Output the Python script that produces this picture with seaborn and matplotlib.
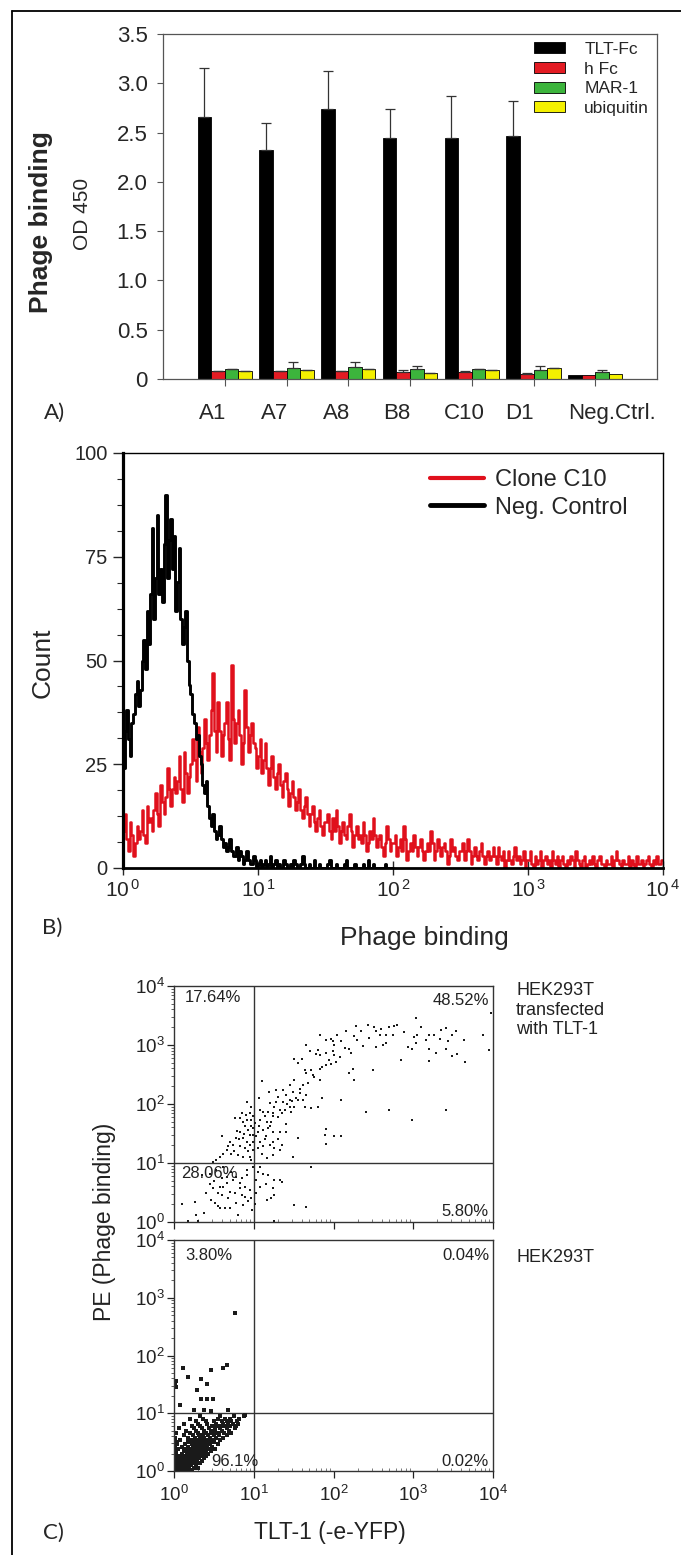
import numpy as np
import pandas as pd
import matplotlib
matplotlib.use("Agg")
import matplotlib.pyplot as plt
import matplotlib.transforms as mtrans
from matplotlib.lines import Line2D
from matplotlib.ticker import AutoMinorLocator, LogLocator, NullLocator, NullFormatter
import seaborn as sns

sns.set_theme(style="ticks")
plt.rcParams['font.family'] = ['Liberation Sans', 'DejaVu Sans']
plt.rcParams['mathtext.fontset'] = 'custom'
plt.rcParams['mathtext.rm'] = 'Liberation Sans'
plt.rcParams['mathtext.it'] = 'Liberation Sans:italic'
plt.rcParams['mathtext.bf'] = 'Liberation Sans:bold'

# ---------------- Panel A data ----------------
clones = ["A1", "A7", "A8", "B8", "C10", "D1", "Neg.Ctrl."]
targets = ["TLT-Fc", "h Fc", "MAR-1", "ubiquitin"]
tlt_fc = [2.66, 2.32, 2.74, 2.45, 2.45, 2.47, 0.044]
h_fc = [0.078, 0.078, 0.078, 0.068, 0.068, 0.054, 0.040]
mar_1 = [0.100, 0.110, 0.120, 0.100, 0.100, 0.095, 0.074]
ubiquitin = [0.078, 0.088, 0.100, 0.060, 0.088, 0.110, 0.047]
tlt_fc_err = [0.50, 0.28, 0.38, 0.29, 0.42, 0.35, 0.0]
h_fc_err = [0.004, 0.004, 0.004, 0.020, 0.012, 0.004, 0.0]
mar_1_err = [0.005, 0.065, 0.055, 0.028, 0.005, 0.033, 0.021]
ubiquitin_err = [0.004, 0.004, 0.004, 0.004, 0.004, 0.004, 0.0]
a_yticks = [0, 0.5, 1.0, 1.5, 2.0, 2.5, 3.0, 3.5]
a_yticklabels = ["0", "0.5", "1.0", "1.5", "2.0", "2.5", "3.0", "3.5"]

# ---------------- Panel B data (histogram channels, 80 per decade) ----------------
channels_per_decade = 80
clone_c10_counts = [
    9, 13, 7, 4, 11, 8, 3, 6, 10, 7, 9, 14, 8, 6, 15, 11, 12, 9, 14, 18,
    13, 10, 20, 16, 13, 17, 24, 19, 15, 19, 22, 18, 21, 27, 19, 16, 28, 23, 18, 22,
    25, 31, 26, 21, 34, 28, 23, 29, 36, 30, 26, 32, 38, 47, 33, 28, 40, 33, 27, 32,
    35, 40, 31, 26, 49, 36, 30, 35, 38, 32, 25, 30, 43, 34, 28, 32, 35, 30, 29, 24,
    27, 31, 23, 26, 30, 24, 20, 24, 27, 22, 19, 23, 25, 20, 17, 21, 23, 19, 15, 18,
    21, 17, 14, 16, 19, 14, 12, 15, 17, 13, 10, 13, 15, 11, 9, 12, 14, 10, 8, 11,
    11, 13, 9, 7, 12, 9, 14, 10, 6, 9, 11, 8, 7, 10, 13, 9, 5, 8, 10, 7,
    8, 6, 11, 8, 4, 6, 9, 7, 12, 8, 5, 7, 8, 5, 3, 6, 10, 7, 4, 6,
    6, 8, 3, 5, 7, 4, 10, 7, 2, 4, 6, 4, 8, 5, 3, 5, 7, 4, 2, 4,
    6, 4, 9, 6, 2, 4, 7, 5, 3, 5, 6, 4, 1, 3, 7, 4, 5, 3, 2, 4,
    4, 6, 2, 4, 7, 4, 1, 3, 5, 3, 2, 4, 6, 3, 1, 3, 4, 2, 3, 5,
    3, 1, 5, 3, 2, 4, 0, 2, 4, 2, 1, 3, 5, 2, 3, 1, 2, 4, 0, 2,
    2, 4, 1, 0, 3, 1, 2, 4, 0, 2, 3, 1, 2, 0, 4, 2, 1, 3, 0, 2,
    3, 1, 0, 2, 1, 3, 2, 0, 4, 2, 1, 0, 2, 3, 0, 1, 2, 1, 3, 1,
    0, 2, 3, 1, 1, 0, 2, 1, 1, 3, 0, 2, 4, 2, 1, 0, 2, 1, 1, 3,
    0, 2, 1, 0, 3, 1, 1, 2, 0, 1, 2, 3, 1, 0, 2, 1, 3, 1, 1, 2]
neg_control_counts = [
    24, 33, 38, 31, 27, 35, 37, 42, 45, 39, 43, 50, 55, 48, 62, 54, 66, 82, 60, 70,
    85, 66, 72, 64, 78, 90, 70, 79, 84, 72, 80, 62, 69, 77, 60, 54, 58, 62, 50, 44,
    42, 37, 35, 31, 32, 27, 25, 20, 18, 21, 15, 12, 10, 13, 9, 7, 8, 10, 7, 5,
    6, 4, 5, 7, 4, 3, 3, 5, 2, 4, 3, 1, 2, 4, 2, 1, 1, 3, 2, 0,
    1, 2, 0, 1, 2, 0, 1, 3, 0, 1, 2, 0, 1, 0, 0, 2, 1, 0, 0, 1,
    0, 2, 1, 0, 0, 1, 3, 1, 0, 0, 1, 0, 0, 2, 0, 0, 1, 0, 0, 0,
    0, 1, 2, 0, 0, 0, 1, 0, 0, 0, 0, 1, 2, 0, 0, 0, 0, 1, 0, 0,
    0, 0, 1, 0, 0, 2, 0, 0, 1, 0, 0, 0, 0, 0, 0, 1, 0, 0, 0, 0]
b_yticks = [0, 25, 50, 75, 100]
decades = [1, 10, 100, 1000, 10000]

# ---------------- Panel C data (log10 TLT-1, log10 PE) ----------------
transfected_cells_log = [
    (3.03, 3.45), (2.28, 3.32), (2.43, 3.34), (2.51, 3.31), (2.76, 3.32), (2.80, 3.34), (2.70, 3.30),
    (2.35, 3.23), (2.53, 3.23), (2.58, 3.17), (2.66, 3.17), (2.74, 3.17), (2.16, 3.24), (2.05, 3.17),
    (2.26, 3.15), (1.97, 3.11), (1.91, 3.08), (1.99, 3.06), (2.10, 3.06), (2.01, 3.00), (1.83, 3.17),
    (1.66, 3.00), (1.80, 2.92), (1.70, 2.89), (1.78, 2.85), (1.83, 2.83), (1.91, 2.87), (1.99, 2.89),
    (2.01, 2.83), (2.03, 2.72), (2.20, 2.93), (2.22, 2.86), (2.37, 2.98), (2.53, 2.97), (2.62, 3.00),
    (2.66, 3.03), (2.93, 2.97), (2.99, 2.93), (3.03, 3.03), (3.01, 3.14), (3.05, 3.17), (3.16, 3.08),
    (3.20, 3.17), (3.26, 3.17), (3.33, 3.11), (3.41, 3.28), (3.43, 3.06), (3.49, 3.17), (3.53, 3.23),
    (3.64, 3.08), (3.20, 2.93), (3.28, 2.87), (3.41, 2.94), (3.49, 2.81), (3.55, 2.85), (3.65, 2.72),
    (3.87, 3.17), (3.95, 2.92), (3.97, 3.54), (2.85, 2.75), (3.20, 2.73), (2.49, 2.58), (2.20, 2.53),
    (2.24, 2.59), (2.26, 2.40), (1.51, 2.76), (1.60, 2.76), (1.55, 2.69), (1.64, 2.58), (1.72, 2.58),
    (1.66, 2.52), (1.76, 2.46), (1.83, 2.41), (1.83, 2.59), (1.91, 2.66), (1.97, 2.68),
    (1.10, 2.39), (1.51, 2.41), (1.45, 2.32), (1.62, 2.32), (1.28, 2.24), (1.37, 2.24), (1.41, 2.15),
    (1.30, 2.12), (1.49, 2.21), (1.58, 2.18), (1.66, 2.15), (1.53, 2.10), (1.45, 2.07), (1.37, 2.04),
    (1.28, 2.04), (1.20, 2.01), (1.26, 1.95), (1.33, 1.90), (1.39, 1.90), (1.45, 1.95), (1.47, 1.87),
    (1.51, 1.95), (1.62, 2.07), (1.55, 2.07), (1.64, 1.95), (1.72, 1.93), (1.80, 1.95), (1.85, 2.10),
    (2.10, 2.07), (1.24, 1.84), (1.18, 1.87), (1.08, 1.90), (1.12, 1.87), (1.14, 1.79), (1.08, 1.73),
    (1.16, 1.70), (1.24, 1.79), (1.20, 1.62), (1.12, 1.56), (1.05, 1.53), (1.24, 1.53), (1.33, 1.53),
    (1.41, 1.53), (1.55, 1.42), (1.24, 1.36), (1.08, 1.36), (1.12, 1.28), (1.20, 1.31), (1.26, 1.25),
    (1.33, 1.22), (1.24, 1.14), (1.49, 1.11), (2.41, 1.86), (2.70, 1.90), (2.99, 1.73), (3.41, 1.89),
    (1.91, 1.57), (1.89, 1.47), (1.90, 1.33), (2.01, 1.46), (2.10, 1.45), (1.72, 0.94),
    (1.15, 1.45), (1.18, 1.60), (1.22, 1.70), (1.30, 1.78), (1.36, 1.85), (1.42, 2.00), (1.48, 2.05),
    (1.58, 2.26), (1.68, 2.36), (1.74, 2.50), (1.86, 2.62), (1.94, 2.74), (2.08, 2.80), (2.14, 2.95),
    (2.30, 3.08), (2.45, 3.12), (2.60, 3.27), (2.88, 3.22), (3.10, 3.30), (3.35, 3.25), (1.10, 1.15),
    (1.14, 1.40), (1.06, 1.62), (1.30, 1.40), (1.40, 1.66), (1.05, 1.25), (1.17, 1.08), (1.35, 1.30),
    (1.06, 2.10), (1.19, 2.20),
    (0.92, 2.04), (0.85, 1.84), (0.90, 1.81), (0.95, 1.84), (0.99, 1.79), (0.76, 1.76), (0.83, 1.76),
    (0.87, 1.70), (0.92, 1.73), (0.97, 1.73), (1.01, 1.67), (0.89, 1.62), (0.93, 1.56), (0.99, 1.59),
    (0.83, 1.53), (0.95, 1.47), (0.99, 1.47), (1.03, 1.45), (0.78, 1.42), (0.87, 1.42), (0.91, 1.36),
    (0.99, 1.36), (0.95, 1.31), (0.70, 1.36), (0.74, 1.31), (0.83, 1.28), (0.89, 1.25), (0.66, 1.22),
    (0.60, 1.46), (0.62, 1.16), (0.72, 1.16), (0.80, 1.14), (0.87, 1.11), (0.95, 1.11), (0.99, 1.22),
    (0.58, 1.11), (0.53, 1.05), (0.49, 1.02), (0.97, 1.05), (0.96, 1.95), (0.88, 1.50), (0.79, 1.55),
    (0.68, 1.28), (0.93, 1.20), (0.82, 1.40), (0.97, 1.62), (0.75, 1.20),
    (0.45, 0.82), (0.53, 0.88), (0.62, 0.94), (0.66, 0.77), (0.74, 0.71), (0.83, 0.66), (0.91, 0.80),
    (0.99, 0.94), (1.08, 0.94), (1.12, 0.82), (1.03, 0.71), (1.18, 0.80), (1.26, 0.71), (1.33, 0.71),
    (0.89, 0.60), (0.58, 0.60), (1.24, 0.57), (0.78, 0.77), (0.92, 0.88), (0.85, 0.75), (0.95, 0.55),
    (0.72, 0.85), (0.60, 0.75), (0.50, 0.70), (0.40, 0.50), (0.35, 0.80), (0.68, 0.40), (0.98, 0.20),
    (0.80, 0.12), (1.05, 0.85), (1.15, 0.65), (1.02, 0.30),
    (0.10, 0.31), (0.26, 0.34), (0.37, 0.15), (0.28, 0.12), (0.45, 0.64), (0.49, 0.57), (0.55, 0.49),
    (0.47, 0.37), (0.51, 0.32), (0.55, 0.27), (0.60, 0.46), (0.62, 0.60), (0.66, 0.66), (0.70, 0.51),
    (0.76, 0.49), (0.83, 0.57), (0.85, 0.46), (0.89, 0.42), (0.93, 0.36), (0.97, 0.40), (1.03, 0.49),
    (0.70, 0.23), (0.64, 0.23), (0.58, 0.23), (0.78, 0.32), (0.87, 0.29), (1.08, 0.60), (1.16, 0.37),
    (1.22, 0.40), (1.24, 0.57), (1.26, 0.46), (1.35, 0.68), (1.51, 0.29), (1.66, 0.25), (0.18, 0.02),
    (0.30, 0.01), (1.26, 0.02)]

control_outliers_log = [
    (0.76, 2.74), (0.11, 1.78), (0.18, 1.63), (0.34, 1.59), (0.47, 1.75), (0.61, 1.78), (0.67, 1.84),
    (0.03, 1.46), (0.29, 1.40), (0.42, 1.50), (0.34, 1.25), (0.42, 1.25), (0.49, 1.25), (0.08, 1.14),
    (0.25, 1.06), (0.37, 1.05), (0.47, 1.04), (0.68, 1.06), (0.89, 0.97), (0.02, 1.55), (0.01, 1.50)]
control_core_rows_log = {
    0.02: [0.01, 0.04, 0.08, 0.12, 0.17, 0.22],
    0.06: [0.02, 0.06, 0.10, 0.14, 0.19, 0.25, 0.30],
    0.10: [0.01, 0.05, 0.09, 0.13, 0.16, 0.21, 0.27],
    0.14: [0.03, 0.08, 0.12, 0.18, 0.23, 0.28, 0.33],
    0.18: [0.02, 0.06, 0.11, 0.15, 0.20, 0.24, 0.29, 0.35],
    0.22: [0.04, 0.09, 0.14, 0.18, 0.22, 0.26, 0.31, 0.38],
    0.26: [0.01, 0.07, 0.13, 0.17, 0.21, 0.25, 0.29, 0.34, 0.40],
    0.30: [0.03, 0.10, 0.16, 0.20, 0.24, 0.28, 0.32, 0.37, 0.43],
    0.34: [0.02, 0.12, 0.18, 0.22, 0.26, 0.30, 0.35, 0.40, 0.47],
    0.38: [0.05, 0.15, 0.21, 0.25, 0.29, 0.33, 0.38, 0.44, 0.52],
    0.42: [0.01, 0.10, 0.18, 0.24, 0.28, 0.32, 0.36, 0.41, 0.48],
    0.46: [0.04, 0.14, 0.22, 0.27, 0.31, 0.35, 0.40, 0.45, 0.55],
    0.50: [0.02, 0.17, 0.25, 0.30, 0.34, 0.39, 0.44, 0.50],
    0.54: [0.08, 0.21, 0.28, 0.33, 0.37, 0.42, 0.48, 0.58],
    0.58: [0.01, 0.18, 0.26, 0.32, 0.38, 0.45, 0.53, 0.62],
    0.62: [0.12, 0.24, 0.31, 0.36, 0.43, 0.50, 0.57, 0.66],
    0.66: [0.03, 0.20, 0.30, 0.40, 0.47, 0.55, 0.63, 0.72],
    0.70: [0.15, 0.28, 0.38, 0.46, 0.52, 0.60, 0.69],
    0.74: [0.06, 0.25, 0.35, 0.44, 0.51, 0.58, 0.66, 0.76],
    0.78: [0.22, 0.33, 0.48, 0.56, 0.63, 0.70, 0.78],
    0.82: [0.12, 0.30, 0.42, 0.53, 0.61, 0.68, 0.74, 0.80],
    0.86: [0.27, 0.40, 0.50, 0.60, 0.66, 0.72, 0.79],
    0.90: [0.20, 0.36, 0.55, 0.64, 0.70, 0.82],
    0.95: [0.32, 0.58, 0.75, 0.88],
}
top_quadrants = ["17.64%", "48.52%", "28.06%", "5.80%"]
bottom_quadrants = ["3.80%", "0.04%", "96.1%", "0.02%"]

# ---------------- Figure ----------------
W, H = 681, 1555
fig = plt.figure(figsize=(W / 100, H / 100), dpi=100)


def rect(l, t, r, b):
    return [l / W, 1 - b / H, (r - l) / W, (b - t) / H]


# outer frame (left & top)
fig.add_artist(Line2D([12 / W, 12 / W], [0, 1 - 11 / H], color='black', lw=1.3))
fig.add_artist(Line2D([12 / W, 1], [1 - 11 / H, 1 - 11 / H], color='black', lw=1.3))

# ---------- Panel A ----------
axA = fig.add_axes(rect(163, 34, 657, 379))
dfA = pd.DataFrame({
    "clone": clones * 4,
    "target": [t for t in targets for _ in clones],
    "od": tlt_fc + h_fc + mar_1 + ubiquitin,
})
palA = {"TLT-Fc": "#000000", "h Fc": "#e31b23", "MAR-1": "#3cb43c", "ubiquitin": "#f4f000"}
sns.barplot(data=dfA, x="clone", y="od", hue="target", order=clones, hue_order=targets,
            palette=palA, width=0.875, errorbar=None, saturation=1, edgecolor="black",
            linewidth=0.6, ax=axA)
for cont, errs in zip(axA.containers, [tlt_fc_err, h_fc_err, mar_1_err, ubiquitin_err]):
    for bar, e in zip(cont, errs):
        if e > 0:
            xc = bar.get_x() + bar.get_width() / 2
            axA.errorbar([xc], [bar.get_height()], yerr=[[0], [e]], color="#333333",
                         lw=0.9, capsize=3.6, capthick=0.9, zorder=3)
axA.set_xlim(-1, 7)
axA.set_ylim(0, 3.5)
axA.set_yticks(a_yticks)
axA.set_yticklabels(a_yticklabels)
axA.set_xlabel("")
axA.set_ylabel("")
for s in axA.spines.values():
    s.set_visible(True)
    s.set_color("#555555")
    s.set_linewidth(0.9)
axA.tick_params(axis="y", direction="out", length=4, width=0.8, color="#555555", pad=7, labelsize=16)
axA.tick_params(axis="x", direction="out", length=5, width=0.8, color="#555555", pad=12, labelsize=16)
xoffs = [-12, -12, -12, -13, -7, -14, 17]
for lab, dx in zip(axA.get_xticklabels(), xoffs):
    lab.set_transform(lab.get_transform() + mtrans.ScaledTranslation(dx / 100, 0, fig.dpi_scale_trans))
legA = axA.get_legend()
hA = legA.legend_handles
lA = [t.get_text() for t in legA.get_texts()]
legA.remove()
axA.legend(hA, lA, loc="upper left", bbox_to_anchor=((534 - 163) / 494, 0.977), borderaxespad=0,
           borderpad=0, frameon=False, fontsize=12.5, handlelength=1.8, handleheight=0.6,
           handletextpad=1.1, labelspacing=0.27)
fig.text(41 / W, 1 - 222 / H, "Phage binding", rotation=90, fontsize=19, fontweight="bold",
         ha="center", va="center")
fig.text(83 / W, 1 - 214 / H, "OD 450", rotation=90, fontsize=15, ha="center", va="center")
fig.text(54 / W, 1 - 413 / H, "A)", fontfamily=["Lato", "DejaVu Sans"], fontsize=16, ha="center", va="center")

# ---------- Panel B ----------
axB = fig.add_axes(rect(123, 453, 663, 868))
n_red = len(clone_c10_counts)
n_blk = len(neg_control_counts)
red_x = 10 ** ((np.arange(n_red) + 0.5) / channels_per_decade)
blk_x = 10 ** ((np.arange(n_blk) + 0.5) / channels_per_decade)
sns.histplot(x=red_x, weights=clone_c10_counts, bins=n_red, binrange=(0, n_red / channels_per_decade),
             log_scale=True, element="step", fill=False, color="#e0101c", linewidth=1.8, ax=axB)
sns.histplot(x=blk_x, weights=neg_control_counts, bins=n_blk, binrange=(0, n_blk / channels_per_decade),
             log_scale=True, element="step", fill=False, color="black", linewidth=2.1, ax=axB)
axB.set_xlim(1, 1e4)
axB.set_ylim(0, 100)
axB.set_xlabel("")
axB.set_ylabel("")
axB.set_yticks(b_yticks)
axB.set_yticklabels([str(v) for v in b_yticks])
axB.yaxis.set_minor_locator(AutoMinorLocator(4))
axB.set_xticks(decades)
axB.set_xticklabels([r"$\mathregular{10^{\,%d}}$" % i for i in range(5)])
axB.xaxis.set_minor_locator(NullLocator())
for name, s in axB.spines.items():
    s.set_visible(True)
    s.set_color("black")
axB.spines["left"].set_linewidth(2.3)
axB.spines["bottom"].set_linewidth(2.0)
axB.spines["top"].set_linewidth(1.0)
axB.spines["right"].set_linewidth(1.0)
axB.tick_params(axis="y", which="major", direction="out", length=7, width=1.0, pad=4, labelsize=14.5)
axB.tick_params(axis="y", which="minor", direction="out", length=4, width=0.8, left=True)
axB.tick_params(axis="x", which="major", direction="inout", length=10, width=1.0, pad=3, labelsize=15)
legB = axB.legend([Line2D([], [], color="#e0101c", lw=3), Line2D([], [], color="black", lw=3.5)],
                  ["Clone C10", "Neg. Control"], loc="upper left",
                  bbox_to_anchor=((430 - 123) / 540, 0.962), borderaxespad=0, borderpad=0,
                  frameon=False, fontsize=17, handlelength=2.3, handletextpad=0.45, labelspacing=0.25)
fig.text(43 / W, 1 - 663 / H, "Count", rotation=90, fontsize=19, ha="center", va="center")
fig.text(424 / W, 1 - 938 / H, "Phage binding", fontsize=19, ha="center", va="center")
fig.text(52 / W, 1 - 928 / H, "B)", fontfamily=["Lato", "DejaVu Sans"], fontsize=16, ha="center", va="center")

# ---------- Panel C ----------
def style_facs(ax, xlabels):
    ax.set_xscale("log")
    ax.set_yscale("log")
    ax.set_xlim(1, 1e4)
    ax.set_ylim(1, 1e4)
    ax.set_xlabel("")
    ax.set_ylabel("")
    for s in ax.spines.values():
        s.set_visible(True)
        s.set_color("#333333")
        s.set_linewidth(1.0)
    ax.axvline(10, color="#333333", lw=1.0, zorder=1)
    ax.axhline(10, color="#333333", lw=1.0, zorder=1)
    ax.set_yticks(decades)
    ax.set_yticklabels([r"$\mathregular{10^{%d}}$" % i for i in range(5)])
    ax.yaxis.set_minor_locator(LogLocator(base=10, subs=np.arange(2, 10) * 1.0, numticks=20))
    ax.yaxis.set_minor_formatter(NullFormatter())
    ax.set_xticks(decades)
    if xlabels:
        ax.set_xticklabels([r"$\mathregular{10^{%d}}$" % i for i in range(5)])
    else:
        ax.set_xticklabels([])
    ax.xaxis.set_minor_locator(LogLocator(base=10, subs=np.arange(2, 10) * 1.0, numticks=20))
    ax.xaxis.set_minor_formatter(NullFormatter())
    ax.tick_params(axis="y", which="major", direction="out", length=5, width=0.9, pad=1.5,
                   labelsize=13.5, colors="#222222")
    ax.tick_params(axis="y", which="minor", direction="out", length=2.5, width=0.6, left=True,
                   color="#444444")
    ax.tick_params(axis="x", which="major", direction="out", length=5, width=0.9, pad=5,
                   labelsize=13.5, colors="#222222")
    ax.tick_params(axis="x", which="minor", direction="in", length=2, width=0.6, bottom=True,
                   color="#666666")


axC1 = fig.add_axes(rect(174, 986, 493, 1222))
sns.scatterplot(x=[10 ** p[0] for p in transfected_cells_log], y=[10 ** p[1] for p in transfected_cells_log],
                marker="s", s=3.5, color="#1a1a1a", linewidth=0, ax=axC1, zorder=2)
style_facs(axC1, False)

axC2 = fig.add_axes(rect(174, 1240, 493, 1471))
core_x = [lx for ly, row in control_core_rows_log.items() for lx in row]
core_y = [ly for ly, row in control_core_rows_log.items() for lx in row]
ctrl_x = [p[0] for p in control_outliers_log] + core_x
ctrl_y = [p[1] for p in control_outliers_log] + core_y
sns.scatterplot(x=[10 ** v for v in ctrl_x], y=[10 ** v for v in ctrl_y],
                marker="s", s=5, color="#1a1a1a", linewidth=0, ax=axC2, zorder=2)
style_facs(axC2, True)

pct_kw = dict(fontsize=12, color="#222222", va="center")
axC1.text(10 ** 0.14, 10 ** 3.81, top_quadrants[0], ha="left", **pct_kw)
axC1.text(10 ** 3.95, 10 ** 3.76, top_quadrants[1], ha="right", **pct_kw)
axC1.text(10 ** 0.09, 10 ** 0.83, top_quadrants[2], ha="left", **pct_kw)
axC1.text(10 ** 3.95, 10 ** 0.17, top_quadrants[3], ha="right", **pct_kw)
axC2.text(10 ** 0.14, 10 ** 3.74, bottom_quadrants[0], ha="left", **pct_kw)
axC2.text(10 ** 3.95, 10 ** 3.74, bottom_quadrants[1], ha="right", **pct_kw)
axC2.text(10 ** 0.47, 10 ** 0.16, bottom_quadrants[2], ha="left", **pct_kw)
axC2.text(10 ** 3.95, 10 ** 0.16, bottom_quadrants[3], ha="right", **pct_kw)

fig.text(516 / W, 1 - 982 / H, "HEK293T\ntransfected\nwith TLT-1", fontsize=13, ha="left", va="top",
         linespacing=1.2, color="#222222")
fig.text(516 / W, 1 - 1257 / H, "HEK293T", fontsize=13, ha="left", va="center", color="#222222")
fig.text(105 / W, 1 - 1222 / H, "PE (Phage binding)", rotation=90, fontsize=16.5, ha="center",
         va="center", color="#222222")
fig.text(330 / W, 1 - 1533 / H, "TLT-1 (-e-YFP)", fontsize=16.5, ha="center", va="center", color="#222222")
fig.text(53 / W, 1 - 1533 / H, "C)", fontfamily=["Lato", "DejaVu Sans"], fontsize=16, ha="center", va="center")

fig.savefig("out.png", dpi=100)
